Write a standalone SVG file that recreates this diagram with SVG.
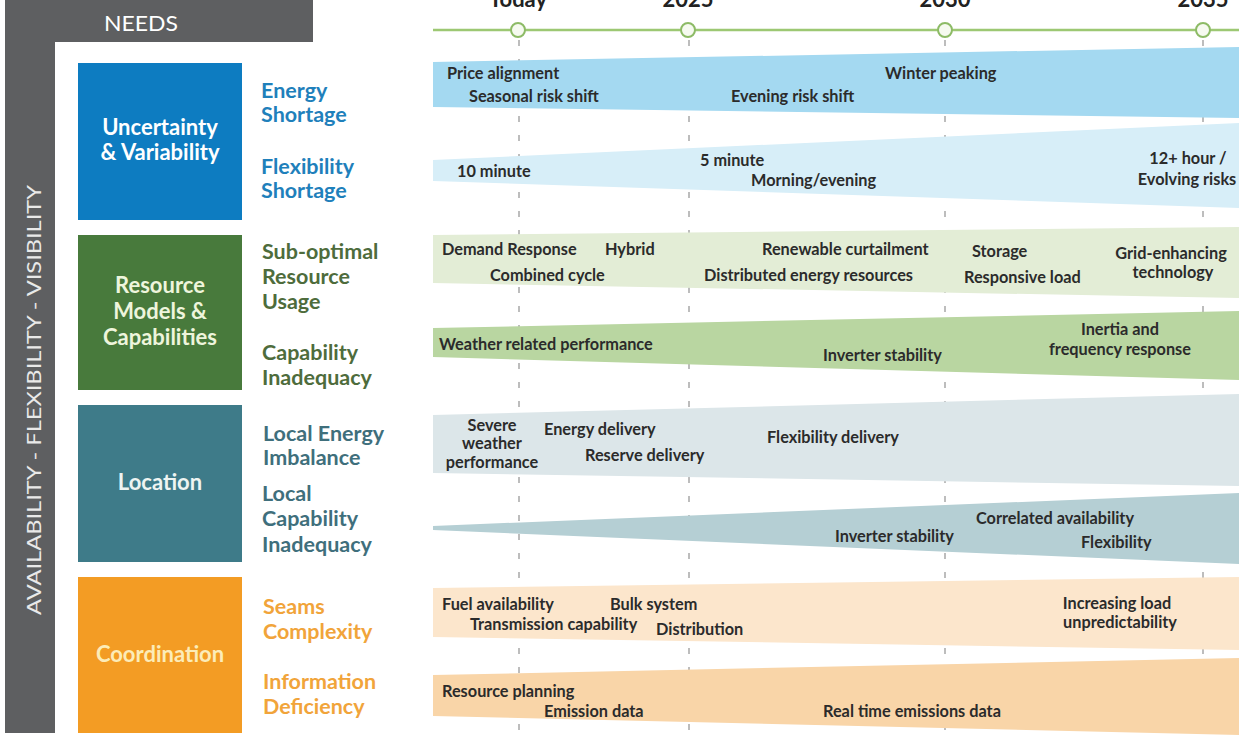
<svg xmlns="http://www.w3.org/2000/svg" width="1239" height="735" viewBox="0 0 1239 735">
<style>
text{font-family:Lato,"Open Sans","Liberation Sans",sans-serif;font-weight:bold}
.box{font-size:22px;text-anchor:middle}
.lbl{font-size:21.5px}
.bt{font-size:16.3px;fill:#2b2b2b}
.c{text-anchor:middle}
.yr{font-size:22px;fill:#222;text-anchor:middle}
.dash{stroke:#a8a8a8;stroke-width:1.5;stroke-dasharray:6 13;fill:none}
.ms{fill:#f6faf0;stroke:#8dbb66;stroke-width:2}
</style>
<rect width="1239" height="735" fill="#ffffff"/>

<g id="frame">
<rect x="5" y="0" width="308" height="42" fill="#5e5f61"/>
<rect x="5" y="42" width="50" height="691" fill="#5e5f61"/>
<text x="141" y="31" fill="#ffffff" font-size="22" text-anchor="middle" textLength="74" lengthAdjust="spacingAndGlyphs" style="font-weight:normal">NEEDS</text>
<text transform="translate(41,400) rotate(-90)" fill="#e9e9e9" font-size="20" text-anchor="middle" textLength="430" lengthAdjust="spacingAndGlyphs" style="font-weight:normal">AVAILABILITY - FLEXIBILITY - VISIBILITY</text>
</g>

<g id="timeline">
<text class="yr" x="518" y="7">Today</text>
<text class="yr" x="688" y="7">2025</text>
<text class="yr" x="945" y="7">2030</text>
<text class="yr" x="1203" y="7">2035</text>
<line x1="433" y1="30" x2="1239" y2="30" stroke="#9dc873" stroke-width="2.5"/>
</g>

<g id="gridlines">
<line class="dash" x1="519" y1="40" x2="519" y2="735"/>
<line class="dash" x1="689" y1="40" x2="689" y2="735"/>
<line class="dash" x1="945" y1="40" x2="945" y2="735"/>
<line class="dash" x1="1203" y1="40" x2="1203" y2="735"/>
<circle class="ms" cx="518" cy="30" r="7"/>
<circle class="ms" cx="688" cy="30" r="7"/>
<circle class="ms" cx="945" cy="30" r="7"/>
<circle class="ms" cx="1203" cy="30" r="7"/>
</g>

<g id="bands">
<polygon points="433,62 1239,47 1239,118 433,107" fill="#a4d9f1"/>
<polygon points="433,160 1239,123 1239,208 433,181" fill="#d7eef8"/>
<polygon points="433,235 1239,227 1239,298 433,283" fill="#e3edd6"/>
<polygon points="433,328 1239,311 1239,380 433,357" fill="#b9d6a1"/>
<polygon points="433,415 1239,394 1239,486 433,473" fill="#dce6e9"/>
<polygon points="433,526 1239,493 1239,564 433,530" fill="#b5cfd4"/>
<polygon points="433,588 1239,577 1239,650 433,637" fill="#fce6cc"/>
<polygon points="433,675 1239,658 1239,735 433,716" fill="#f9d5a8"/>
</g>

<g id="node-uncertainty">
<rect x="78" y="63" width="164" height="157" fill="#0d7cc1"/>
<text class="box" x="160" y="135" fill="#ffffff">Uncertainty</text>
<text class="box" x="160" y="160" fill="#ffffff">&amp; Variability</text>
<g class="lbl" fill="#1f80bb">
<text x="261" y="98">Energy</text>
<text x="261" y="122">Shortage</text>
<text x="261" y="174">Flexibility</text>
<text x="261" y="198">Shortage</text>
</g>
</g>

<g id="node-resource">
<rect x="78" y="235" width="164" height="155" fill="#487a3c"/>
<text class="box" x="160" y="293" fill="#eef5dc">Resource</text>
<text class="box" x="160" y="319" fill="#eef5dc">Models &amp;</text>
<text class="box" x="160" y="345" fill="#eef5dc">Capabilities</text>
<g class="lbl" fill="#4e6c3c">
<text x="262" y="259">Sub-optimal</text>
<text x="262" y="284">Resource</text>
<text x="262" y="309">Usage</text>
<text x="262" y="360">Capability</text>
<text x="262" y="385">Inadequacy</text>
</g>
</g>

<g id="node-location">
<rect x="78" y="405" width="164" height="157" fill="#3e7b89"/>
<text class="box" x="160" y="490" fill="#eef4f2">Location</text>
<g class="lbl" fill="#3f6f7c">
<text x="263" y="441">Local Energy</text>
<text x="263" y="465">Imbalance</text>
<text x="262" y="501">Local</text>
<text x="262" y="526">Capability</text>
<text x="262" y="552">Inadequacy</text>
</g>
</g>

<g id="node-coordination">
<rect x="78" y="577" width="164" height="156" fill="#f39c24"/>
<text class="box" x="160" y="662" fill="#fcecb8">Coordination</text>
<g class="lbl" fill="#f1a43a">
<text x="263" y="614">Seams</text>
<text x="263" y="639">Complexity</text>
<text x="263" y="689">Information</text>
<text x="263" y="714">Deficiency</text>
</g>
</g>

<g id="band-labels" class="bt">
<text class="bt" x="447" y="79">Price alignment</text>
<text class="bt" x="469" y="102">Seasonal risk shift</text>
<text class="bt" x="731" y="102">Evening risk shift</text>
<text class="bt" x="885" y="79">Winter peaking</text>

<text class="bt" x="457" y="177">10 minute</text>
<text class="bt" x="700" y="166">5 minute</text>
<text class="bt" x="751" y="186">Morning/evening</text>
<text class="bt c" x="1188" y="164">12+ hour /</text>
<text class="bt c" x="1187" y="185">Evolving risks</text>

<text class="bt" x="442" y="255">Demand Response</text>
<text class="bt" x="605" y="255">Hybrid</text>
<text class="bt" x="490" y="281">Combined cycle</text>
<text class="bt" x="762" y="255">Renewable curtailment</text>
<text class="bt" x="704" y="281">Distributed energy resources</text>
<text class="bt" x="972" y="257">Storage</text>
<text class="bt" x="964" y="283">Responsive load</text>
<text class="bt c" x="1171" y="259">Grid-enhancing</text>
<text class="bt c" x="1173" y="278">technology</text>

<text class="bt" x="439" y="350">Weather related performance</text>
<text class="bt" x="823" y="361">Inverter stability</text>
<text class="bt c" x="1120" y="335">Inertia and</text>
<text class="bt c" x="1120" y="355">frequency response</text>

<text class="bt c" x="492" y="431">Severe</text>
<text class="bt c" x="492" y="449">weather</text>
<text class="bt c" x="492" y="468">performance</text>
<text class="bt" x="544" y="435">Energy delivery</text>
<text class="bt" x="585" y="461">Reserve delivery</text>
<text class="bt" x="767" y="443">Flexibility delivery</text>

<text class="bt" x="835" y="542">Inverter stability</text>
<text class="bt" x="976" y="524">Correlated availability</text>
<text class="bt" x="1081" y="548">Flexibility</text>

<text class="bt" x="442" y="610">Fuel availability</text>
<text class="bt" x="610" y="610">Bulk system</text>
<text class="bt" x="470" y="630">Transmission capability</text>
<text class="bt" x="656" y="635">Distribution</text>
<text class="bt c" x="1117" y="609">Increasing load</text>
<text class="bt c" x="1120" y="628">unpredictability</text>

<text class="bt" x="442" y="697">Resource planning</text>
<text class="bt" x="544" y="717">Emission data</text>
<text class="bt" x="823" y="717">Real time emissions data</text>
</g>
</svg>
